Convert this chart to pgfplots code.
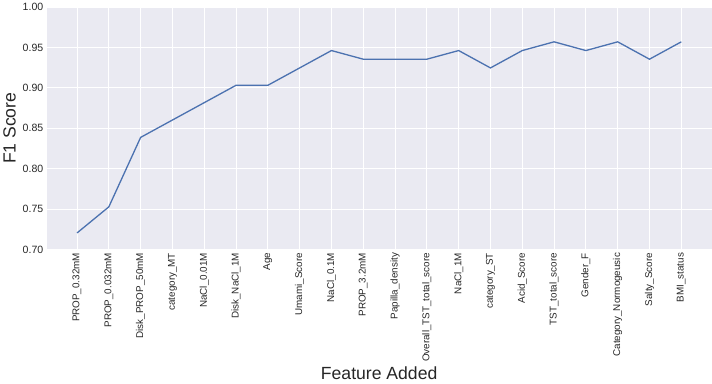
\documentclass[border=0pt]{standalone}
\usepackage{pgfplots}
\pgfplotsset{compat=1.18}
\usepackage{fontspec}
\setmainfont{Liberation Sans}
\definecolor{bg}{HTML}{EAEAF2}
\definecolor{sblue}{HTML}{4C72B0}
\definecolor{txt}{HTML}{262626}
\begin{document}
\begin{tikzpicture}
\begin{axis}[
  scale only axis, width=661pt, height=241pt,
  xmin=-0.95, xmax=19.95, ymin=0.70, ymax=1.00,
  ytick={0.70,0.75,0.80,0.85,0.90,0.95,1.00},
  yticklabel style={font=\fontsize{10.5}{12}\selectfont, text=txt, /pgf/number format/.cd, fixed, fixed zerofill, precision=2},
  /pgf/number format/assume math mode=true,
  xtick={0,...,19},
  xticklabels={PROP\_0.32mM, PROP\_0.032mM, Disk\_PROP\_50mM, category\_MT, NaCl\_0.01M, Disk\_NaCl\_1M, Age, Umami\_Score, NaCl\_0.1M, PROP\_3.2mM, Papilla\_density, Overall\_TST\_total\_score, NaCl\_1M, category\_ST, Acid\_Score, TST\_total\_score, Gender\_F, Category\_Normogeusic, Salty\_Score, BMI\_status},
  xticklabel style={rotate=90, anchor=east, font=\fontsize{9.8}{12}\selectfont, text=txt},
  axis background/.style={fill=bg},
  axis line style={draw=none},
  grid=major, grid style={white, line width=1pt},
  major tick length=0pt,
  xlabel={Feature Added}, ylabel={F1 Score},
  label style={font=\fontsize{17.5}{20}\selectfont, text=txt},
  xlabel style={yshift=2pt},
]
\addplot[sblue, line width=1.3pt] coordinates {
(0,0.7204) (1,0.7527) (2,0.8387) (3,0.8602) (4,0.8817) (5,0.9032) (6,0.9032) (7,0.9247) (8,0.9462) (9,0.9355) (10,0.9355) (11,0.9355) (12,0.9462) (13,0.9247) (14,0.9462) (15,0.9570) (16,0.9462) (17,0.9570) (18,0.9355) (19,0.9570)
};
\end{axis}
\end{tikzpicture}
\end{document}
